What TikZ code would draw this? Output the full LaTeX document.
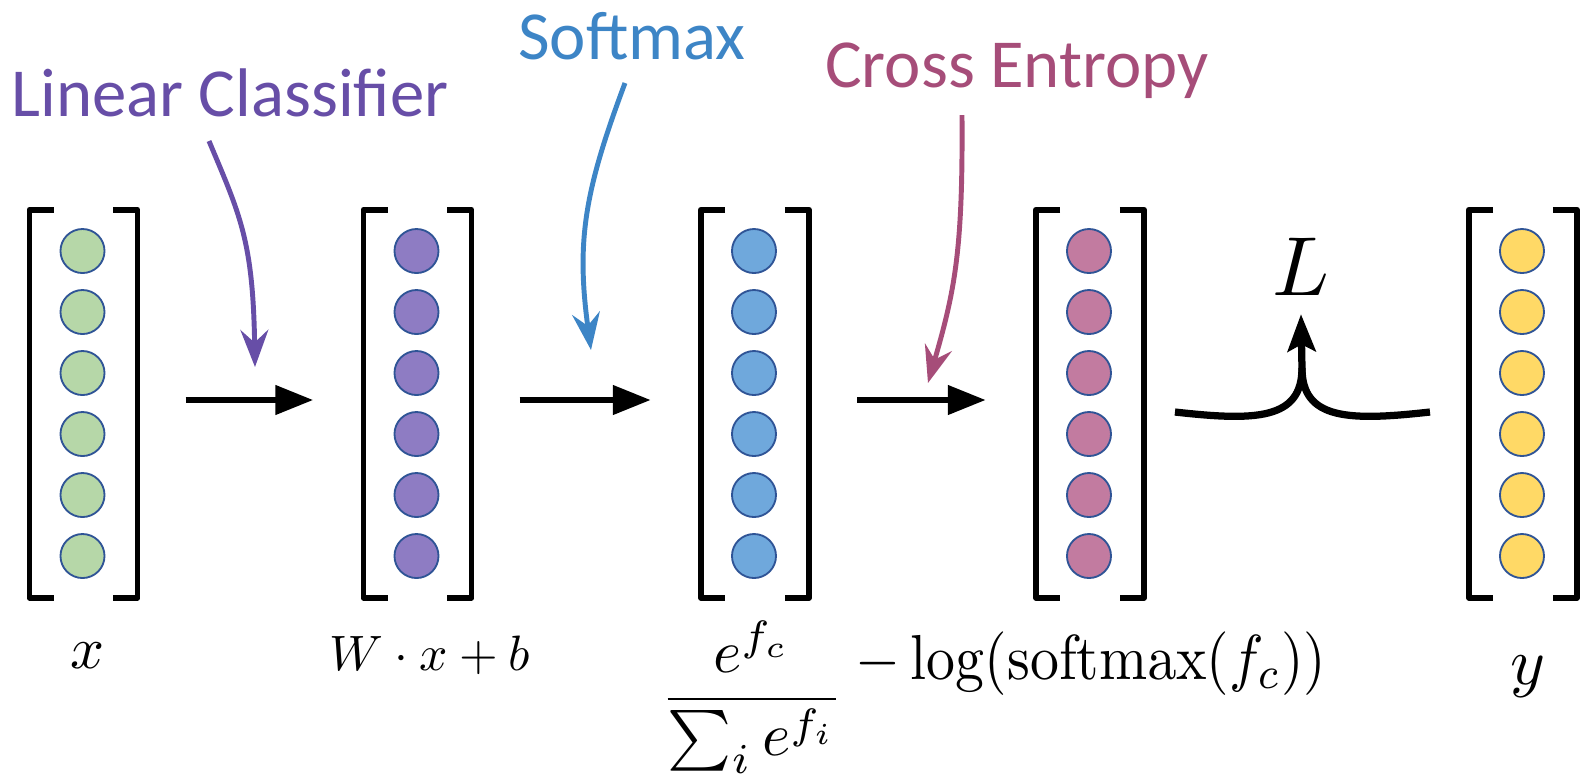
\documentclass[tikz,border=0pt]{standalone}
\usepackage[no-math]{fontspec}
\newfontfamily\calib{Carlito}
\usepackage{amsmath}
\usepackage{graphicx}
\usetikzlibrary{arrows.meta}
\definecolor{lcpurple}{HTML}{674EA7}
\definecolor{smblue}{HTML}{3D85C6}
\definecolor{cemag}{HTML}{A64D79}
\definecolor{dgreen}{HTML}{B6D7A8}
\definecolor{dpurple}{HTML}{8E7CC3}
\definecolor{dblue}{HTML}{6FA8DC}
\definecolor{dpink}{HTML}{C27BA0}
\definecolor{dyellow}{HTML}{FFD966}
\definecolor{dotline}{HTML}{2F5496}
\begin{document}
\begin{tikzpicture}[x=0.1724bp,y=-0.1724bp,
  dot/.style={circle, draw=dotline, line width=0.32bp, minimum size=7.59bp, inner sep=0pt},
  col/.style={rectangle, minimum width=18.62bp, minimum height=66.89bp, inner sep=0pt, outer sep=0pt},
  brk/.style={line width=1.03bp, line join=round},
  flow/.style={line width=1.2bp, -{Triangle[length=6.55bp,width=4.83bp]}, shorten <=8.28bp, shorten >=8.62bp},
  note/.style={line width=0.85bp, -{Stealth[length=6.4bp,width=4.8bp,inset=2.2bp]}},
  joinline/.style={line width=1.25bp},
  lab/.style={font=\calib\fontsize{11.9}{14}\selectfont, inner sep=0pt, anchor=base},
  mlab/.style={inner sep=0pt, anchor=base}
]
\useasboundingbox (0,0) rectangle (1581,777);

% columns
\foreach \i/\cx/\fc in {1/83.5/dgreen, 2/417.5/dpurple, 3/755/dblue, 4/1090/dpink, 5/1523/dyellow} {
  \node[col] (c\i) at (\cx,403.7) {};
  \draw[brk] ([xshift=4.14bp]c\i.north west) -- (c\i.north west) -- (c\i.south west) -- ([xshift=4.14bp]c\i.south west);
  \draw[brk] ([xshift=-4.14bp]c\i.north east) -- (c\i.north east) -- (c\i.south east) -- ([xshift=-4.14bp]c\i.south east);
  \foreach \j in {1,...,6} \node[dot, fill=\fc] (c\i-\j) at (\cx-1, 190+61*\j) {};
}

% flow arrows
\draw[flow] ([yshift=0.64bp]c1.east) -- ([yshift=0.64bp]c2.west);
\draw[flow] ([yshift=0.64bp]c2.east) -- ([yshift=0.64bp]c3.west);
\draw[flow] ([yshift=0.64bp]c3.east) -- ([yshift=0.64bp]c4.west);

% annotation labels
\node[lab, text=lcpurple] (tlc) at (230,116) {Linear Classifier};
\node[lab, text=smblue] (tsm) at (632,59) {Softmax};
\node[lab, text=cemag] (tce) at (1017,87) {Cross Entropy};

% annotation arrows
\coordinate (lcs) at (209,141); \coordinate (lct) at (255,367);
\coordinate (sms) at (625,83);  \coordinate (smt) at (591,350);
\coordinate (ces) at (962,115); \coordinate (cet) at (928,383);
\draw[note, lcpurple] (lcs) .. controls (240,215) and (253,240) .. (lct);
\draw[note, smblue] (sms) .. controls (585,190) and (576,240) .. (smt);
\draw[note, cemag] (ces) .. controls (963,250) and (955,290) .. (cet);

% loss junction
\node[mlab] (L) at (1301,295) {\scalebox{1.45}{$L$}};
\coordinate (jl) at (1175,412);
\coordinate (jr) at (1430,412);
\coordinate (jm) at (1302,368);
\draw[joinline] (jl) .. controls (1255,421) and (1302,420) .. (jm);
\draw[joinline] (jr) .. controls (1349,421) and (1302,420) .. (jm);
\draw[joinline, -{Stealth[length=6.4bp,width=4.8bp,inset=1.2bp]}] (jm) -- ([yshift=-3.1bp]L.south);

% math labels
\node[mlab] (lx) at (88,668) {\scalebox{1.03}{$x$}};
\node[mlab] (lw) at (430,670) {\scalebox{0.86}{$W\cdot x+b$}};
\node[mlab] (lf) at (752,714) {\scalebox{1.05}{$\dfrac{e^{f_c}}{\sum_i e^{f_i}}$}};
\node[mlab] (llog) at (1091,679) {\scalebox{1}[1.1]{$-\log(\mathrm{softmax}(f_c))$}};
\node[mlab] (ly) at (1528,684) {\scalebox{1.15}{$y$}};
\end{tikzpicture}
\end{document}
